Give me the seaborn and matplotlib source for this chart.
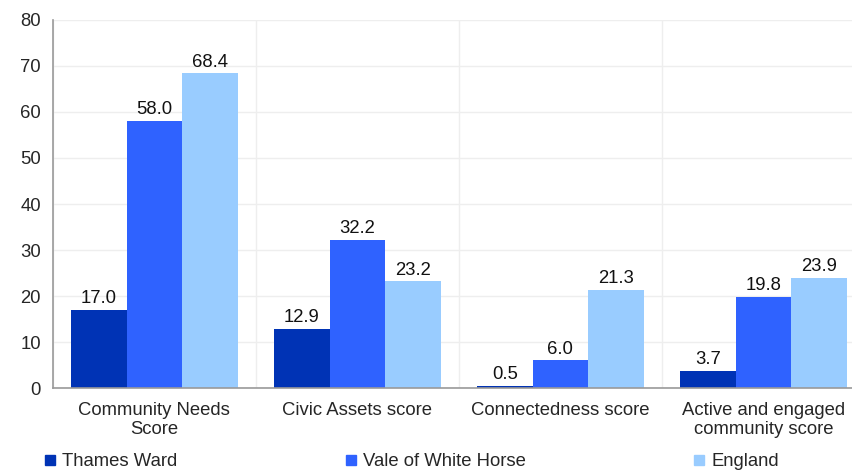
import pandas as pd
import seaborn as sns
import matplotlib.pyplot as plt
from matplotlib.lines import Line2D

categorias = ["Community Needs\nScore", "Civic Assets score", "Connectedness score",
              "Active and engaged\ncommunity score"]
series = ["Thames Ward", "Vale of White Horse", "England"]
thames = [17.0, 12.9, 0.5, 3.7]
vale = [58.0, 32.2, 6.0, 19.8]
england = [68.4, 23.2, 21.3, 23.9]
colores = ["#0033b5", "#2f62ff", "#99ccff"]

df = pd.DataFrame({
    "categoria": categorias * 3,
    "serie": [s for s in series for _ in categorias],
    "valor": thames + vale + england,
})

sns.set_style("white")
plt.rcParams["font.family"] = ["Liberation Sans", "DejaVu Sans"]
plt.rcParams["font.size"] = 13.3

fig = plt.figure(figsize=(8.53, 4.75), dpi=100)
ax = fig.add_axes([0.062, 0.183, 0.952, 0.775])
sns.barplot(data=df, x="categoria", y="valor", hue="serie", palette=colores,
            width=0.82, saturation=1, linewidth=0, ax=ax, legend=False)

for cont in ax.containers:
    ax.bar_label(cont, fmt="%.1f", padding=2, fontsize=13.3, color="#111111")

ax.set_xlim(-0.5, 3.5)
ax.set_ylim(0, 80)
ax.set_yticks(range(0, 81, 10))
ax.set_xlabel("")
ax.set_ylabel("")
ax.set_xticks([-0.5, 0.5, 1.5, 2.5, 3.5], minor=True)
ax.tick_params(axis="x", which="major", length=0, pad=10, labelsize=13.3)
ax.tick_params(axis="x", which="minor", length=5, color="#999999", width=1)
ax.tick_params(axis="y", length=5, color="#999999", width=1, labelsize=13.3)
for lab in ax.get_xticklabels():
    lab.set_linespacing(1.15)
ax.yaxis.grid(True, color="#eeeeee", linewidth=1)
ax.xaxis.grid(True, which="minor", color="#eeeeee", linewidth=1)
ax.set_axisbelow(True)
for s in ["top", "right"]:
    ax.spines[s].set_visible(False)
for s in ["left", "bottom"]:
    ax.spines[s].set_color("#999999")
    ax.spines[s].set_linewidth(1.2)

handles = [Line2D([], [], marker="s", linestyle="", markersize=7.5, color=c) for c in colores]
fig.legend(handles, series, loc="center left", bbox_to_anchor=(0.052, 0.028), ncol=3,
           frameon=False, columnspacing=9.1, handlelength=0.6, handletextpad=0.35,
           borderpad=0, borderaxespad=0, fontsize=13.3)

fig.savefig("out.png", dpi=100)
